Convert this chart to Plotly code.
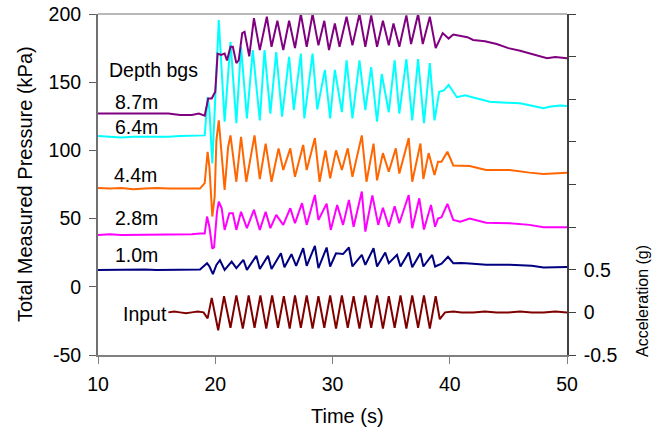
import plotly.graph_objects as go

# ---------------- data ----------------
t_87 = [10, 11, 12, 13, 14, 15, 16, 17, 18, 18.6, 19.1, 19.4, 19.7, 20.0, 20.2, 20.5, 20.8, 21.0,
        21.3, 21.5, 21.8, 22.0, 22.3, 22.5, 22.9, 23.3, 23.8, 24.4, 24.8, 25.3, 25.8, 26.3, 26.8,
        27.3, 27.8, 28.3, 28.8, 29.3, 29.7, 30.2, 30.6, 31.2, 31.7, 32.3, 32.8, 33.3, 33.8, 34.3,
        34.8, 35.2, 35.7, 36.3, 36.7, 37.3, 37.7, 38.3, 38.8, 39.4, 39.9, 40.3, 40.8, 41.5, 42.0,
        43.0, 44.0, 45.0, 46.0, 47.0, 47.7, 48.3, 49.0, 50.0]
p_87 = [127, 127, 126.5, 127, 127, 126.5, 127, 126, 126, 127, 125.5, 138, 138, 143, 171, 170, 171, 166,
        176, 176, 164, 166, 186, 187, 169, 197, 173.5, 198, 176, 195, 173.5, 195, 175,
        200, 176, 200, 177, 195, 173.5, 193, 176, 198, 177, 200, 176, 199, 176, 195,
        177, 193, 176, 199, 178, 200, 178, 198, 175, 186, 182, 185, 184, 183, 181,
        180, 178, 175, 173, 170.5, 168.5, 167.5, 168.5, 167.5]

t_64 = [10, 11, 12, 13, 14, 15, 16, 17, 18, 19.1, 19.35, 19.5, 19.75, 20.3, 20.8, 21.3, 21.8, 22.2,
        22.7, 23.2, 23.8, 24.2, 24.7, 25.2, 25.7, 26.3, 26.7, 27.3, 27.6, 28.3, 28.7, 29.35, 29.8,
        30.2, 30.8, 31.2, 31.7, 32.3, 32.8, 33.3, 33.8, 34.2, 34.8, 35.3, 35.7, 36.3, 36.8, 37.3,
        37.8, 38.3, 38.7, 39.1, 39.5, 39.9, 40.3, 40.6, 41.3, 42.0, 43.4, 44.8, 46.0, 47.1, 48.0,
        48.5, 49.4, 50.0]
p_64 = [110.5, 110, 109.5, 110, 110, 109.5, 110, 110.5, 111, 111, 139, 130, 90.5, 195.5, 121, 179.6, 120, 176,
        123.5, 173.5, 122, 173.5, 127, 172, 124.7, 168.6, 129.6, 171, 123.5, 171, 130, 159, 123.5,
        159, 128, 166, 123.5, 166, 129.6, 161, 121, 156, 128, 166, 127, 167, 122, 167,
        120, 164, 122, 143, 144, 148, 143, 139, 140.5, 139, 135.7, 135, 134.5, 132.5, 131,
        132, 133, 132.5]

t_44 = [10, 11, 12, 13, 14, 15, 16, 17, 18, 18.7, 19.1, 19.35, 19.5, 19.75, 19.95, 20.1, 20.3, 20.55,
        20.8, 21.1, 21.3, 21.8, 22.2, 22.65, 23.35, 23.8, 24.3, 24.8, 25.4, 25.8, 26.4, 26.8, 27.5,
        27.8, 28.5, 28.9, 29.4, 29.8, 30.3, 30.8, 31.3, 31.7, 32.5, 32.9, 33.5, 33.8, 34.3, 34.8,
        35.4, 35.7, 36.5, 36.8, 37.5, 37.75, 38.2, 38.7, 39.0, 39.3, 39.8, 40.3, 40.9, 41.7, 43.1,
        45.1, 46.8, 48.0, 50.0]
p_44 = [72.5, 72, 72.5, 71.5, 72, 72.5, 72, 72, 72.5, 72, 76, 99, 88, 51.5, 66, 107.6, 122, 98,
        71, 102.7, 111, 77, 110, 77, 111, 79, 105, 77, 101.5, 85.6, 101.5, 80.7, 104,
        85.6, 109, 77, 100, 79.6, 100, 85.6, 101.5, 80.7, 111, 77, 105, 78, 98, 84.4,
        101.5, 83, 109, 77, 105, 79, 98, 82, 91.7, 91.7, 99, 89, 88.6, 88.6, 85.6,
        85.6, 83.7, 82.7, 83.7]

t_28 = [10, 11, 12, 13, 14, 15, 16, 17, 18, 18.7, 19.1, 19.3, 19.5, 19.75, 19.9, 20.15, 20.3, 20.55,
        20.8, 21.2, 21.5, 21.8, 22.2, 22.7, 23.3, 23.8, 24.3, 24.7, 25.2, 25.8, 26.4, 26.8, 27.4,
        27.8, 28.5, 28.8, 29.5, 29.85, 30.4, 30.9, 31.4, 31.8, 32.5, 32.8, 33.4, 33.9, 34.3, 34.8,
        35.3, 35.7, 36.5, 36.8, 37.4, 37.8, 38.4, 38.75, 39.0, 39.3, 39.8, 40.3, 40.9, 41.7, 43.1,
        45.1, 46.8, 48.0, 50.0]
p_28 = [38, 38.5, 38, 38, 38.5, 38, 38.5, 38, 38.5, 39, 39, 51.5, 44, 28, 29, 55, 62.5, 57.6,
        41.7, 54, 54, 41.7, 55, 43, 56.4, 41.7, 55, 43, 52.7, 45.4, 57.6, 46.6, 61.3,
        45.4, 67.3, 49, 61, 41.7, 60, 45.4, 63.7, 44, 69.8, 40.5, 67, 45.4, 58, 44,
        59, 46.6, 67.3, 43, 64.9, 42, 60, 44, 50, 51, 60.8, 49, 47.8, 50, 47,
        46.6, 45.4, 43.7, 43.7]

t_10 = [10, 11, 12, 13, 14, 15, 16, 17, 18, 18.7, 19.3, 19.5, 19.8, 20.1, 20.4, 20.8, 21.4, 21.8,
        22.4, 22.7, 23.5, 23.8, 24.5, 24.8, 25.6, 25.9, 26.5, 26.9, 27.5, 27.8, 28.5, 28.8, 29.5,
        29.8, 30.3, 30.9, 31.4, 31.7, 32.5, 32.8, 33.5, 33.8, 34.5, 34.8, 35.5, 35.8, 36.5, 36.8,
        37.5, 37.75, 38.5, 38.75, 39.3, 39.85, 40.3, 41.0, 41.7, 43.1, 45.1, 47.0, 48.0, 50.0]
p_10 = [12.4, 12.5, 12.2, 12.4, 12.6, 12.3, 12.4, 12.5, 12.4, 12.6, 17.3, 15, 9.3, 16, 19.5, 12.4, 18.5, 13.7,
        19.8, 12.4, 22.7, 13, 22.7, 13, 24.6, 14.4, 23.9, 15.4, 28.3, 15.4, 30, 13.7, 28.8,
        14.9, 24.6, 24, 28.8, 14.9, 23.4, 16.1, 28.3, 14.9, 25.1, 17.3, 23.4, 14.9, 25.1, 14.4,
        24.6, 14.9, 23.4, 14.9, 17, 22, 17.3, 17.5, 17, 16.1, 16.1, 15.5, 14.1, 14.5]

t_in = [16.0, 16.5, 17.0, 17.5, 18.0, 18.5, 19.0, 19.35, 19.7, 20.25, 20.75, 21.3, 21.8, 22.35, 22.85,
        23.35, 23.85, 24.35, 24.85, 25.35, 25.85, 26.35, 26.8, 27.3, 27.8, 28.3, 28.8, 29.3, 29.8,
        30.3, 30.8, 31.3, 31.8, 32.3, 32.8, 33.3, 33.8, 34.3, 34.8, 35.3, 35.8, 36.3, 36.8, 37.3,
        37.8, 38.3, 38.8, 39.15, 39.6, 40.3, 41, 42, 43, 44, 45, 46, 47, 48, 49, 50]
a_in = [0.0, 0.01, 0.0, -0.01, 0.0, 0.01, 0.0, -0.07, 0.17, -0.21, 0.19, -0.18, 0.2, -0.19, 0.2,
        -0.18, 0.2, -0.19, 0.2, -0.18, 0.19, -0.19, 0.2, -0.18, 0.2, -0.19, 0.19, -0.18, 0.2,
        -0.19, 0.2, -0.18, 0.19, -0.19, 0.2, -0.18, 0.2, -0.19, 0.19, -0.18, 0.2, -0.19, 0.2, -0.18,
        0.2, -0.19, 0.19, -0.08, 0.0, 0.01, 0.0, 0.0, 0.01, 0.0, 0.0, 0.01, 0.0, 0.0, 0.01, 0.0]

x_ticks = [10, 20, 30, 40, 50]
y_ticks = [-50, 0, 50, 100, 150, 200]
y_labels = ["-50", "0", "50", "100", "150", "200"]
acc_ticks = [-0.5, 0, 0.5, 1, 1.5, 2, 2.5, 3, 3.5]
acc_labels = ["-0.5", "0", "0.5", "", "", "", "", "", ""]

# ---------------- figure ----------------
FONT = "Liberation Sans, Arial, sans-serif"
fig = go.Figure()
lw = 2
fig.add_trace(go.Scatter(x=t_in, y=a_in, yaxis="y2", mode="lines", line=dict(color="#800000", width=lw)))
fig.add_trace(go.Scatter(x=t_10, y=p_10, mode="lines", line=dict(color="#000080", width=lw)))
fig.add_trace(go.Scatter(x=t_28, y=p_28, mode="lines", line=dict(color="#FF00FF", width=lw)))
fig.add_trace(go.Scatter(x=t_44, y=p_44, mode="lines", line=dict(color="#FF6600", width=lw)))
fig.add_trace(go.Scatter(x=t_64, y=p_64, mode="lines", line=dict(color="#00FFFF", width=lw)))
fig.add_trace(go.Scatter(x=t_87, y=p_87, mode="lines", line=dict(color="#800080", width=lw)))

L, R, T, B = 98, 98, 14, 81
W, H = 665, 436
pw, ph = W - L - R, H - T - B


def px(x):
    return (x - L) / pw


def py(y):
    return (H - B - y) / ph


labels = [("Depth bgs", 107, 70), ("8.7m", 113, 102), ("6.4m", 113, 127), ("4.4m", 112, 175),
          ("2.8m", 113, 218), ("1.0m", 113, 255), ("Input", 121, 314)]
ann = []
for txt, x, y in labels:
    ann.append(dict(text=txt, x=px(x), y=py(y), xref="paper", yref="paper", xanchor="left",
                    yanchor="middle", showarrow=False, font=dict(size=19.5, color="black", family=FONT)))
ann.append(dict(text="Total Measured Pressure (kPa)", x=px(25), y=py(184), xref="paper", yref="paper",
                textangle=-90, showarrow=False, xanchor="center", yanchor="middle",
                font=dict(size=20, color="black", family=FONT)))
ann.append(dict(text="Time (s)", x=px(347), y=py(416), xref="paper", yref="paper",
                showarrow=False, xanchor="center", yanchor="middle",
                font=dict(size=20, color="black", family=FONT)))
ann.append(dict(text="Acceleration (g)", x=px(642), y=py(301), xref="paper", yref="paper",
                textangle=-90, showarrow=False, xanchor="center", yanchor="middle",
                font=dict(size=16, color="black", family=FONT)))

fig.update_layout(
    width=W, height=H, margin=dict(l=L, r=R, t=T, b=B, pad=0, autoexpand=False),
    paper_bgcolor="white", plot_bgcolor="white", showlegend=False,
    font=dict(family=FONT, size=19.5, color="black"),
    xaxis=dict(range=[10, 50], tickvals=x_ticks, ticks="outside", ticklen=7, tickcolor="#808080",
               showline=True, linecolor="#808080", linewidth=2, showgrid=False, zeroline=False,
               ticklabelstandoff=4, automargin=False),
    yaxis=dict(range=[-50, 200], tickvals=y_ticks, ticktext=y_labels, ticks="outside", ticklen=7,
               tickcolor="#606060", showline=True, linecolor="#707070", linewidth=2, showgrid=False,
               zeroline=False, ticklabelstandoff=4, automargin=False),
    yaxis2=dict(range=[-0.5, 3.5], overlaying="y", side="right", tickvals=acc_ticks, ticktext=acc_labels,
                ticks="outside", ticklen=7, tickcolor="#404040", showline=True, linecolor="#404040",
                linewidth=1.5, showgrid=False, zeroline=False, ticklabelstandoff=4, automargin=False),
    annotations=ann,
    shapes=[dict(type="line", xref="paper", yref="paper", x0=0, x1=1, y0=1, y1=1,
                 line=dict(color="#b8b8b8", width=2))],
)
fig.write_html("out.html", config={"displayModeBar": False},
               post_script="document.body.style.margin='0';document.body.style.overflow='hidden';")
